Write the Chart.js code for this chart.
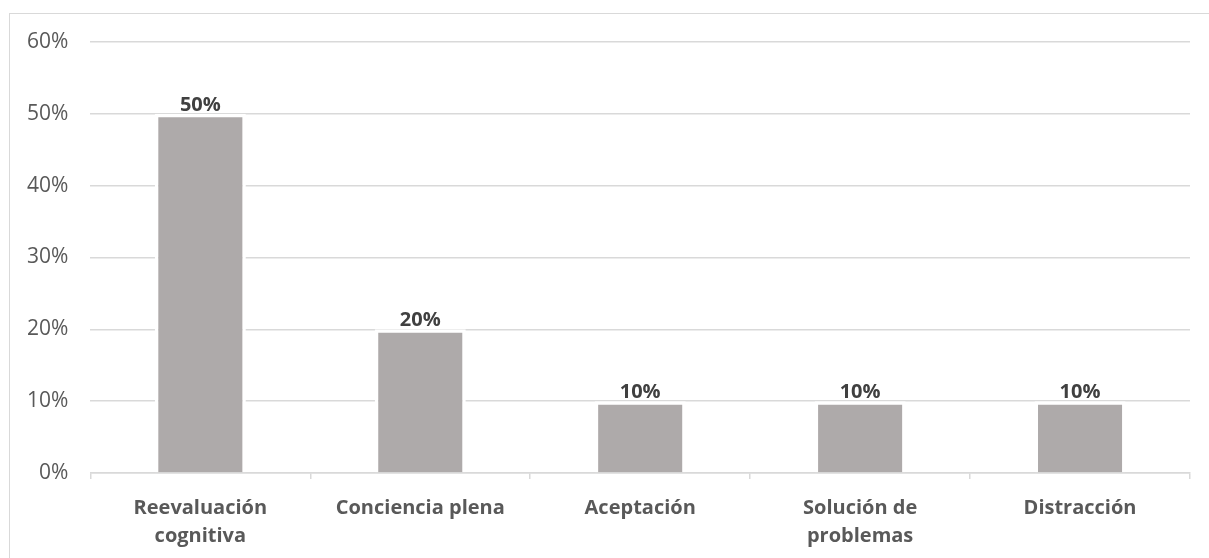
<!DOCTYPE html>
<html>
<head>
<meta charset="utf-8">
<script src="https://cdn.jsdelivr.net/npm/chart.js@4"></script>
<style>
  html, body { margin: 0; padding: 0; background: #fff; overflow: hidden; }
  #wrap { position: relative; width: 1209px; height: 558px; }
  #frame { position: absolute; left: 9px; top: 13px; width: 1240px; height: 600px; border: 1.5px solid #d9d9d9; box-sizing: border-box; }
  canvas { position: absolute; left: 0; top: 0; }
</style>
</head>
<body>
<div id="wrap">
  <div id="frame"></div>
  <canvas id="chart" width="1209" height="558"></canvas>
</div>
<script>
// Data
const categories = [
  ['Reevaluación', 'cognitiva'],
  'Conciencia plena',
  'Aceptación',
  ['Solución de', 'problemas'],
  'Distracción',
];
const values = [0.5, 0.2, 0.1, 0.1, 0.1];
const yTicks = [0, 0.1, 0.2, 0.3, 0.4, 0.5, 0.6];

const FONT = '"Open Sans", "DejaVu Sans", sans-serif';
const pct = v => Math.round(v * 100) + '%';

// data labels above bars
const barLabels = {
  id: 'barLabels',
  afterDatasetsDraw(chart) {
    const ctx = chart.ctx;
    const meta = chart.getDatasetMeta(0);
    ctx.save();
    ctx.font = 'bold 20px ' + FONT;
    ctx.fillStyle = '#404040';
    ctx.textAlign = 'center';
    ctx.textBaseline = 'alphabetic';
    meta.data.forEach((bar, i) => {
      ctx.fillText(pct(values[i]), bar.x, bar.y - 3);
    });
    ctx.restore();
  },
};

new Chart(document.getElementById('chart'), {
  type: 'bar',
  data: {
    labels: categories,
    datasets: [{
      data: values,
      backgroundColor: '#aeaaaa',
      borderColor: '#ffffff',
      borderWidth: 3.5,
      borderSkipped: 'start',
      categoryPercentage: 1,
      barPercentage: 0.414,
    }],
  },
  options: {
    responsive: false,
    animation: false,
    layout: { padding: { left: 5, right: 19, top: 42, bottom: -7 } },
    plugins: {
      legend: { display: false },
      tooltip: { enabled: false },
    },
    scales: {
      x: {
        grid: {
          drawOnChartArea: false,
          color: '#d9d9d9',
          lineWidth: 1.5,
          tickLength: 6,
        },
        border: { color: '#d9d9d9', width: 1.5 },
        ticks: {
          color: '#595959',
          padding: 15,
          maxRotation: 0,
          autoSkip: false,
          font: { family: FONT, size: 20, weight: 'bold', lineHeight: 1.4 },
        },
      },
      y: {
        min: 0,
        max: 0.6,
        afterBuildTicks(axis) {
          axis.ticks = yTicks.map(v => ({ value: v }));
        },
        grid: { color: '#d9d9d9', lineWidth: 1.5, drawTicks: false },
        border: { display: false },
        ticks: {
          color: '#595959',
          padding: 22,
          callback: v => pct(v),
          font: { family: FONT, size: 21 },
        },
      },
    },
  },
  plugins: [barLabels],
});
</script>
</body>
</html>
